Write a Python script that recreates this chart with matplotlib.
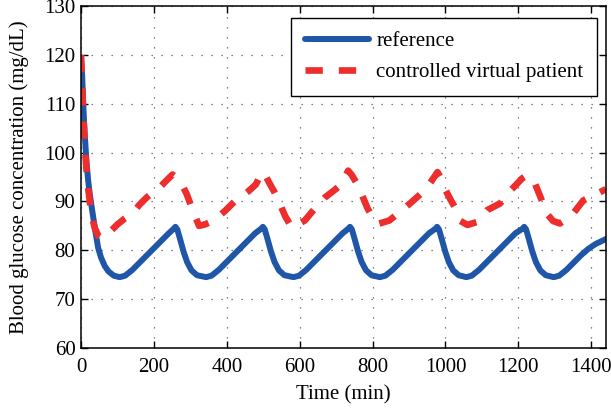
import matplotlib
matplotlib.use("Agg")
import matplotlib.pyplot as plt

# reference glucose trajectory (mg/dL) vs time (min)
t_ref = [0, 3, 6, 10, 15, 20, 25, 30, 38, 47, 55, 65, 75, 90, 106,
         121, 141, 161, 181, 201, 221, 241, 254, 259, 264, 271, 281, 291, 303, 318, 343,
         358, 378, 398, 418, 438, 458, 478, 494, 499, 504, 511, 521, 531, 543, 558, 583,
         598, 618, 638, 658, 678, 698, 718, 733, 738, 743, 750, 760, 770, 782, 797, 820,
         835, 855, 875, 895, 915, 935, 955, 972, 977, 982, 989, 999, 1009, 1021, 1036, 1057,
         1072, 1092, 1112, 1132, 1152, 1172, 1192, 1211, 1216, 1221, 1228, 1238, 1248, 1260, 1275, 1297,
         1312, 1332, 1352, 1372, 1392, 1412, 1440]
g_ref = [119, 116, 110, 104, 98, 94, 91, 88.5, 84.5, 80.5, 78.5, 76.8, 75.7, 74.8, 74.5,
         74.8, 76.0, 77.5, 79.0, 80.5, 82.0, 83.5, 84.4, 84.8, 84.3, 82.5, 79.8, 77.6, 75.9, 74.9, 74.5,
         74.8, 76.0, 77.5, 79.0, 80.5, 82.0, 83.5, 84.4, 84.8, 84.3, 82.5, 79.8, 77.6, 75.9, 74.9, 74.5,
         74.8, 76.0, 77.5, 79.0, 80.5, 82.0, 83.5, 84.4, 84.8, 84.3, 82.5, 79.8, 77.6, 75.9, 74.9, 74.5,
         74.8, 76.0, 77.5, 79.0, 80.5, 82.0, 83.5, 84.4, 84.8, 84.3, 82.5, 79.8, 77.6, 75.9, 74.9, 74.5,
         74.8, 76.0, 77.5, 79.0, 80.5, 82.0, 83.5, 84.4, 84.8, 84.3, 82.5, 79.8, 77.6, 75.9, 74.9, 74.5,
         74.8, 76.0, 77.5, 79.0, 80.3, 81.3, 82.3]

# controlled virtual patient
t_pat = [0, 3, 6, 10, 15, 20, 25, 30, 38, 47, 57, 70, 85, 100, 120, 140, 160, 180, 200, 220, 240,
         251, 260, 270, 280, 290, 300, 310, 324, 340, 365, 397, 424, 461, 480, 496,
         505, 515, 530, 545, 560, 578, 595, 614, 642, 669, 695, 714, 733,
         742, 755, 770, 786, 800, 815, 846, 887, 906, 942, 960, 978,
         990, 1001, 1015, 1028, 1041, 1060, 1087, 1114, 1150, 1173, 1210, 1223,
         1242, 1260, 1278, 1295, 1314, 1335, 1350, 1378, 1405, 1440]
g_pat = [120, 114, 108, 102, 96.5, 92.5, 89.5, 87, 84.5, 83, 82.5, 83, 84.2, 85.3, 86.5, 87.5, 89.3, 90.8, 92, 93.2, 94.7,
         95.5, 95, 94, 93, 91.5, 89.5, 87.5, 85, 85.3, 86.1, 88.2, 90.2, 92.2, 93.5, 96,
         95.5, 94, 92, 89.6, 87, 84.7, 85.3, 86.1, 88.6, 90.8, 92.3, 93.5, 96.3,
         95.5, 93.9, 91.5, 88.6, 86.8, 85.4, 86.1, 88.6, 89.8, 92.2, 94, 96,
         94.5, 92.2, 90.2, 88.5, 86, 85.2, 85.8, 88.2, 89.6, 91.8, 94.7, 95.3,
         94.3, 91, 87.5, 86, 85.5, 86.5, 87.5, 90.2, 91.2, 92.5]

plt.rcParams['font.family'] = ['Liberation Serif', 'DejaVu Serif']
plt.rcParams['font.size'] = 15

fig = plt.figure(figsize=(6.11, 4.11), dpi=100)
ax = fig.add_axes([0.1326, 0.1533, 0.859, 0.832])

ax.plot(t_ref, g_ref, color='#1f56a8', lw=4.3, solid_joinstyle='round',
        solid_capstyle='round', label='reference')
ax.plot(t_pat, g_pat, color='#ee2d2d', lw=4.8, linestyle=(0, (2.6, 2.4)),
        dash_capstyle='butt', label='controlled virtual patient')

ax.set_xlim(0, 1440)
ax.set_ylim(60, 130)
ax.set_xticks(range(0, 1401, 200))
ax.set_yticks(range(60, 131, 10))
ax.set_xlabel('Time (min)', labelpad=6)
ax.set_ylabel('Blood glucose concentration (mg/dL)', labelpad=11)

ax.grid(True, color='0.35', linestyle=(0, (1, 7)), linewidth=0.9)
ax.tick_params(direction='in', top=True, right=True, length=5, width=1, pad=4)
ax.tick_params(axis='x', pad=7)
for s in ax.spines.values():
    s.set_linewidth(1.1)

leg = ax.legend(loc='upper right', bbox_to_anchor=(0.983, 0.965), borderaxespad=0,
                fancybox=False, framealpha=1, edgecolor='black',
                handlelength=3.1, handletextpad=0.33, labelspacing=0.55, borderpad=0.65)
leg.get_frame().set_linewidth(1.0)

fig.savefig('out.png', dpi=100)
